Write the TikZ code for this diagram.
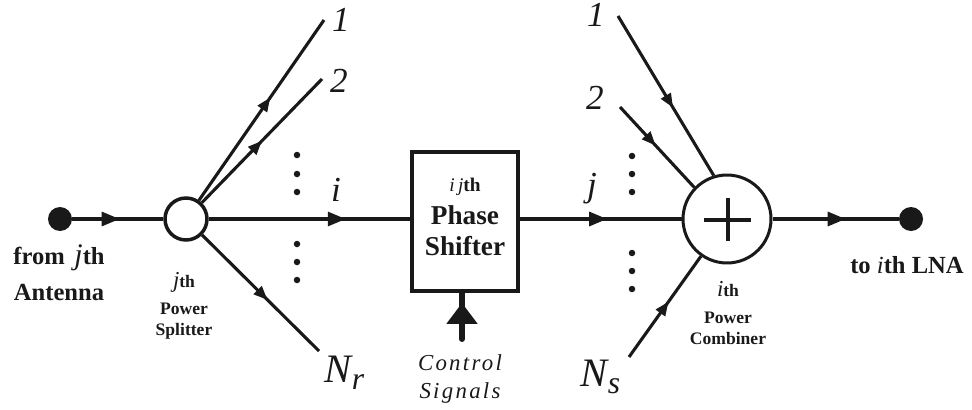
\documentclass[tikz,border=0pt]{standalone}
\usepackage{fontspec}
\setmainfont{Liberation Serif}
\usetikzlibrary{arrows.meta,decorations.markings}

\begin{document}
\begin{tikzpicture}[
    x=0.02cm, y=-0.02cm,
    wire/.style={line width=0.062cm, black!90},
    flow/.style={wire, postaction={decorate}, decoration={markings, mark=at position #1 with {\arrow{Triangle[length=0.28cm, width=0.22cm]}}}},
    mainflow/.style={wire, postaction={decorate}, decoration={markings, mark=at position #1 with {\arrow{Triangle[length=0.36cm, width=0.28cm]}}}},
    port/.style={circle, fill=black!90, draw=none, minimum size=0.48cm, inner sep=0},
    ring/.style={circle, draw=black!90, line width=0.07cm, fill=white, inner sep=0},
    dotmark/.style={circle, fill=black!90, draw=none, minimum size=0.13cm, inner sep=0},
    big/.style={font=\fontsize{14}{20.5}\selectfont\bfseries, align=center, inner sep=0, text=black!90},
    small/.style={font=\fontsize{10}{15}\selectfont\bfseries, align=center, inner sep=0, text=black!90},
    idx/.style={font=\fontsize{20}{24}\selectfont\itshape, inner sep=0, text=black!90},
    idxbig/.style={font=\fontsize{23}{24}\selectfont\itshape, inner sep=0, text=black!90}
]
% source, splitter, shifter, combiner, sink
\node[port] (from) at (60,219) {};
\node[ring, minimum size=0.84cm] (split) at (186,219) {};
\node[draw=black!90, line width=0.07cm, fill=white, minimum width=2.12cm, minimum height=2.78cm, inner sep=0] (shift) at (465,221.5) {};
\node[ring, line width=0.06cm, minimum size=1.76cm] (comb) at (727,219) {};
\node[port] (to) at (911,219) {};

% free ends
\coordinate (o1) at (324,20);
\coordinate (o2) at (322,79);
\coordinate (oN) at (319,351);
\coordinate (c1) at (618,16);
\coordinate (c2) at (620,107);
\coordinate (cN) at (629,357);
\coordinate (ctl) at (462,339);

\draw[mainflow=0.52] (from) -- (split);
\draw[flow=0.57] (split) -- (o1);
\draw[flow=0.50] (split) -- (o2);
\draw[mainflow=0.68] (split) -- (split -| shift.west);
\draw[flow=0.56] (split) -- (oN);
\draw[mainflow=0.54] (comb -| shift.east) -- (comb);
\draw[flow=0.575] (c1) -- (comb.107);
\draw[flow=0.48] (c2) -- (comb.136);
\draw[flow=0.55] (cN) -- (comb.235);
\draw[mainflow=0.58] (comb) -- (to);
\draw[line width=0.12cm, black!90, line cap=round, postaction={decorate}, decoration={markings, mark=at position 0.78 with {\arrow{Triangle[length=0.42cm, width=0.6cm]}}}] (ctl) -- (ctl |- shift.south);

% plus sign
\coordinate (pl) at (704,220);
\coordinate (pr) at (751,220);
\coordinate (pt) at (728,198);
\coordinate (pb) at (728,241);
\draw[line width=0.085cm, black!90] (pl) -- (pr);
\draw[line width=0.09cm, black!90] (pt) -- (pb);

% dots
\foreach \y in {155,174,192,244,262,280} \node[dotmark] (sd\y) at (297,\y) {};
\foreach \y in {156,174,192,253,271,289} \node[dotmark] (cd\y) at (632,\y) {};

% labels
\node[big] (fromlbl) at (59,273) {from\hspace{2pt} \textit{\fontsize{17}{17}\selectfont\mdseries j}th\\Antenna};
\node[small] (splitlbl) at (184,306) {\textit{\fontsize{13}{12}\selectfont\mdseries j}th\\Power\\[-3pt]Splitter};
\node[align=center, inner sep=0, text=black!90, font=\fontsize{15.5}{17.6}\selectfont\bfseries] (shiftlbl) at (465,217) {{\fontsize{11}{14}\selectfont\textit{\mdseries i\,j}th}\\[1pt]Phase\\Shifter};
\node[small] (comblbl) at (728,313) {\textit{\fontsize{13}{12}\selectfont\mdseries i}th\\Power\\[-3pt]Combiner};
\node[big] (tolbl) at (907,265) {to \textit{\mdseries i}th LNA};
\node[idx] (l1) at (341,20) {1};
\node[idx] (l2) at (339,81) {2};
\node[idx] (li) at (336,190) {i};
\node[idxbig] (lN) at (345,373) {N\textsubscript{\fontsize{18}{18}\selectfont r}};
\node[idx] (rj) at (592,189) {j};
\node[idx] (r1) at (596,15) {1};
\node[idx] (r2) at (595,98) {2};
\node[idxbig] (rN) at (601,377) {N\textsubscript{\fontsize{18}{18}\selectfont s}};
\node[align=center, inner sep=0, text=black!90, font=\fontsize{13}{16}\selectfont\itshape\addfontfeature{LetterSpace=10}] (ctllbl) at (460,379) {Control\\Signals};

\useasboundingbox (0,0) rectangle (972,409);
\end{tikzpicture}
\end{document}
